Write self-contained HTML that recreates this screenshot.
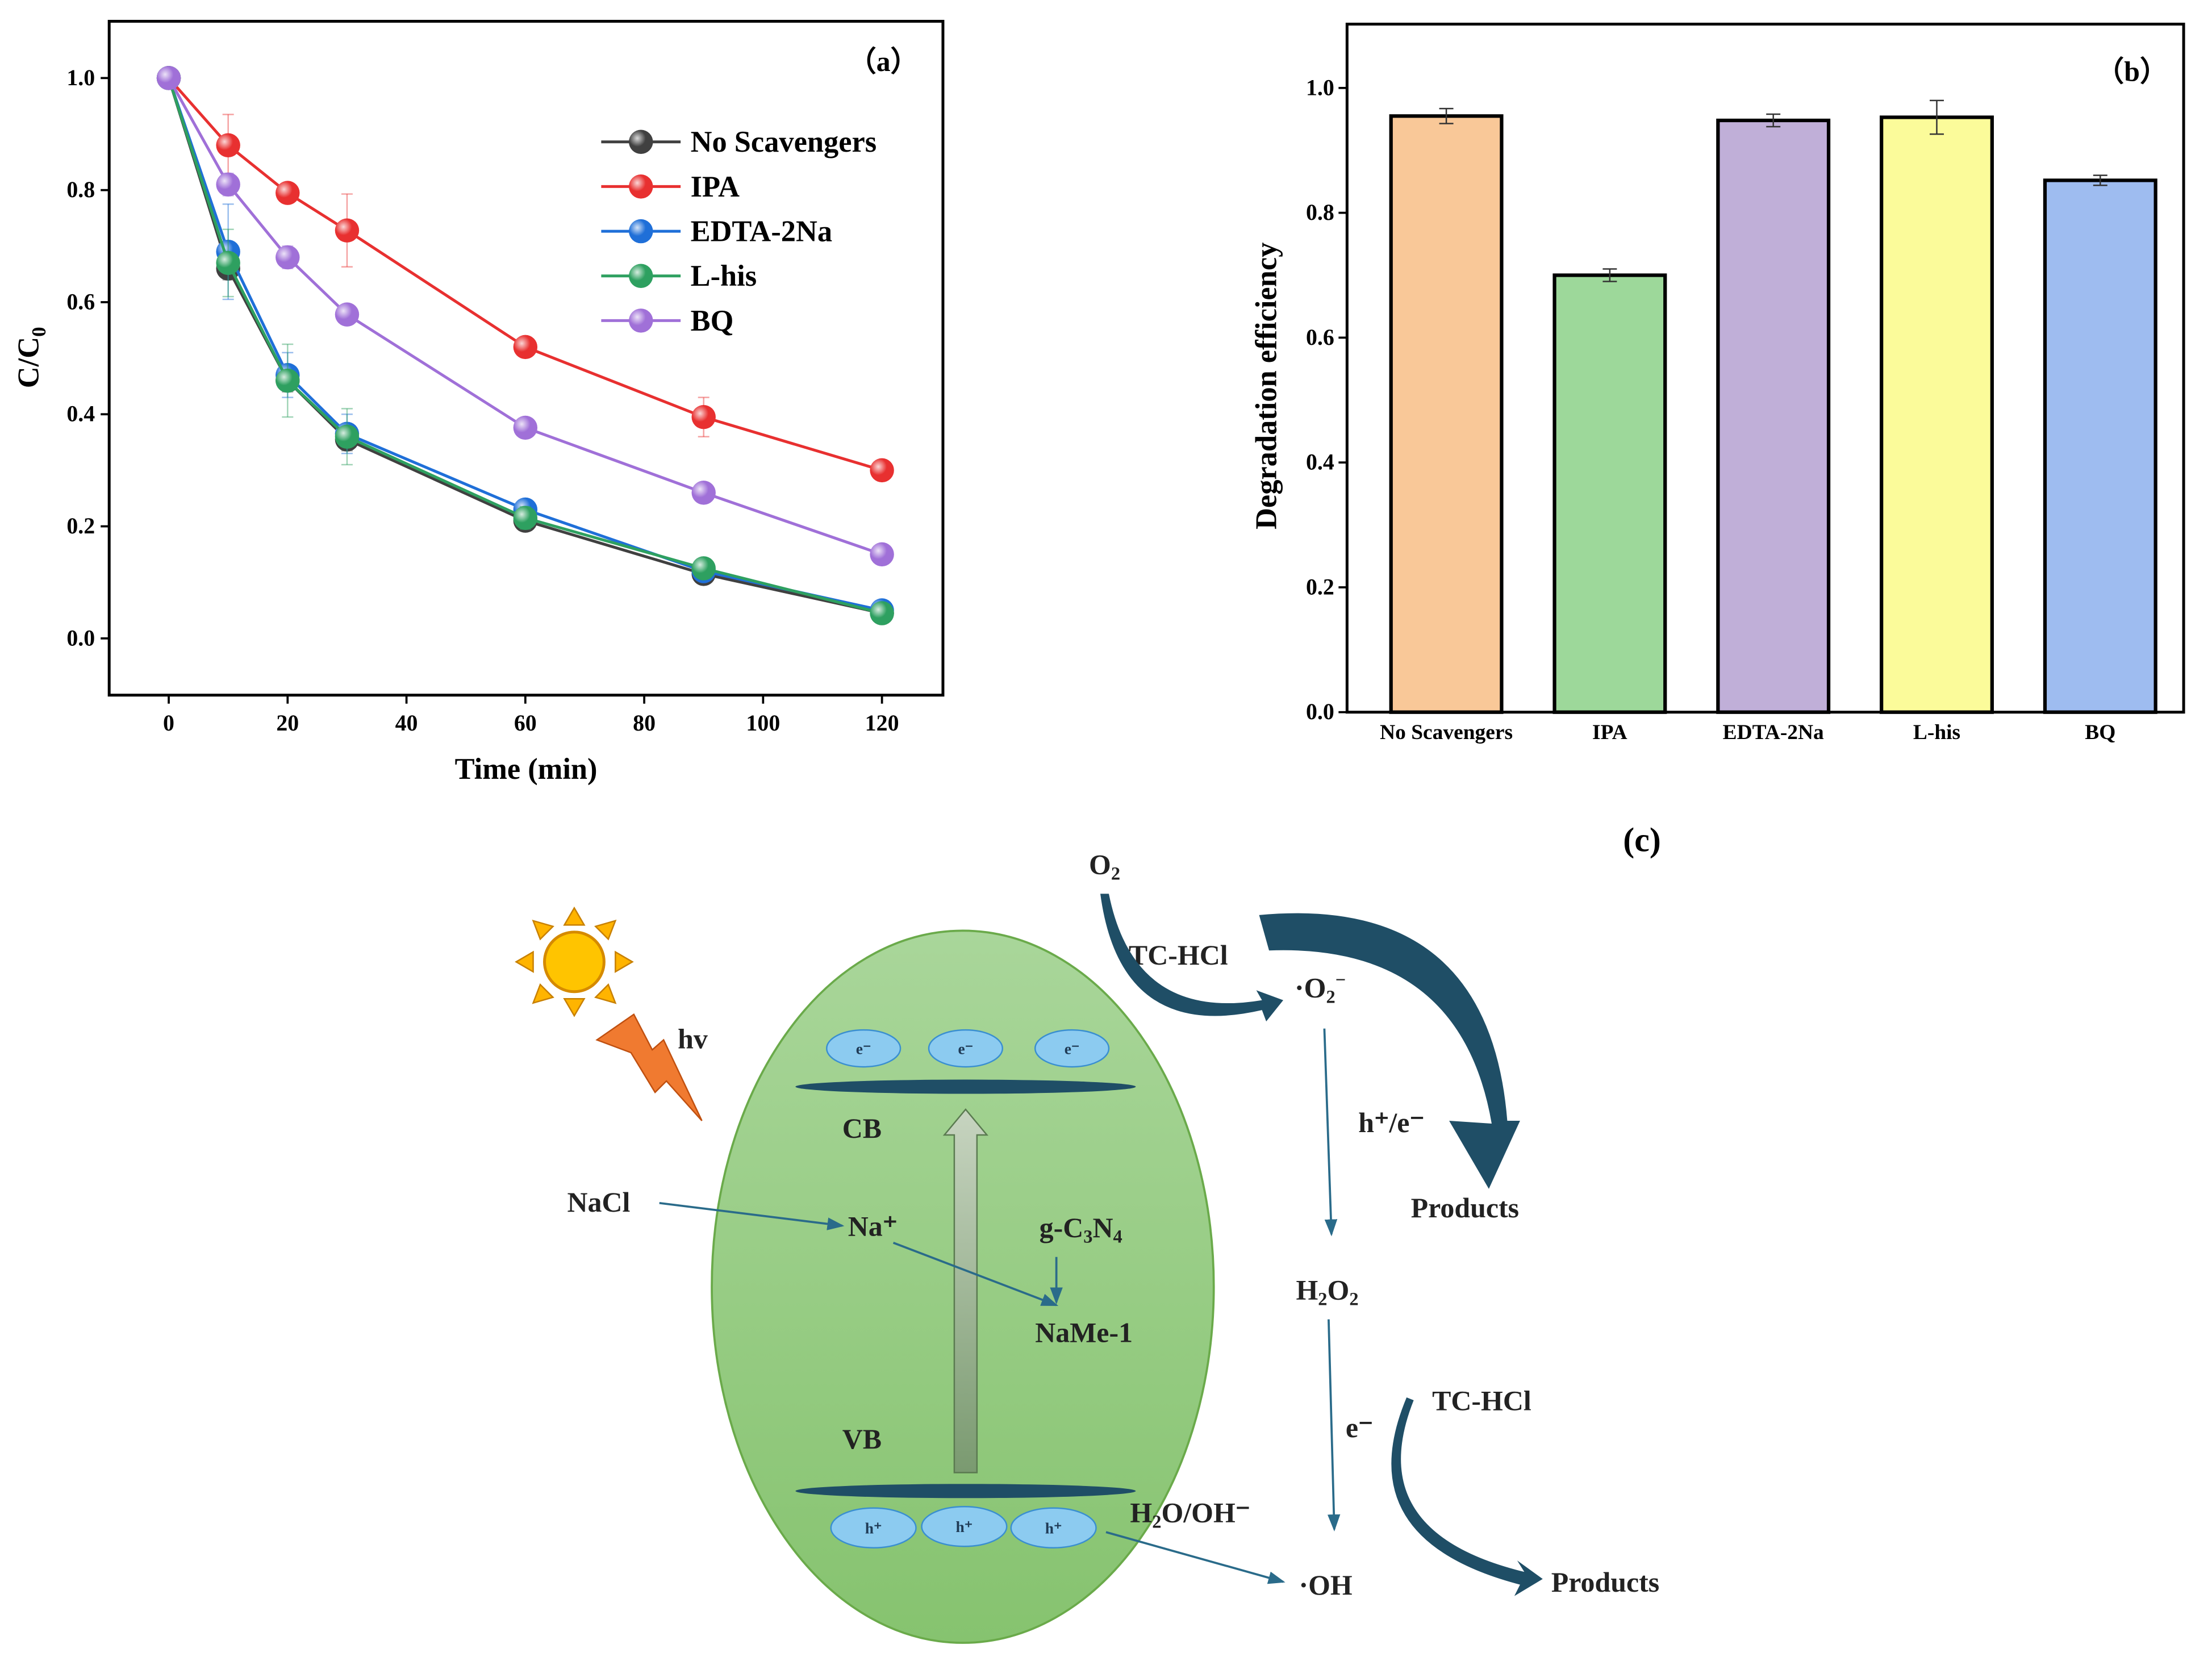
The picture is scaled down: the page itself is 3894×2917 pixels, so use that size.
<!DOCTYPE html>
<html><head><meta charset="utf-8"><style>
html,body{margin:0;padding:0;background:#fff;}
svg{display:block;font-family:"Liberation Serif",serif;font-weight:bold;}
</style></head><body>
<svg id="fig" width="3894" height="2917" viewBox="0 0 1560 1168" preserveAspectRatio="none" xmlns="http://www.w3.org/2000/svg">
<defs>
<radialGradient id="ball" cx="0.35" cy="0.35" r="0.7"><stop offset="0" stop-color="#fff" stop-opacity="0.8"/><stop offset="0.5" stop-color="#fff" stop-opacity="0"/></radialGradient>
<linearGradient id="cellg" x1="0" y1="0" x2="0" y2="1"><stop offset="0" stop-color="#a9d69a"/><stop offset="1" stop-color="#86c36f"/></linearGradient>
<linearGradient id="arrg" x1="0" y1="0" x2="0" y2="1"><stop offset="0" stop-color="#c7d4c0"/><stop offset="1" stop-color="#7a9a70"/></linearGradient>
<marker id="ah" markerWidth="8" markerHeight="8" refX="7" refY="4" orient="auto"><path d="M0,1 L8,4 L0,7 Z" fill="#2a6b8a"/></marker>
</defs>
<g id="pa"></g>
<g id="pb"></g>
<g id="pc">
  <text x="1158" y="600" font-size="24" text-anchor="middle">(c)</text>
  <ellipse cx="679" cy="907" rx="177" ry="251" fill="url(#cellg)" stroke="#6aaa4a" stroke-width="1.5"/>
  <ellipse cx="681" cy="766" rx="120" ry="5" fill="#1f4e66"/>
  <ellipse cx="681" cy="1051" rx="120" ry="5" fill="#1f4e66"/>
  <g font-size="11" text-anchor="middle" fill="#1f3a55">
    <ellipse cx="609" cy="739" rx="26" ry="13" fill="#8ccbf0" stroke="#3a8fd0"/><text x="609" y="743">e⁻</text>
    <ellipse cx="681" cy="739" rx="26" ry="13" fill="#8ccbf0" stroke="#3a8fd0"/><text x="681" y="743">e⁻</text>
    <ellipse cx="756" cy="739" rx="26" ry="13" fill="#8ccbf0" stroke="#3a8fd0"/><text x="756" y="743">e⁻</text>
  </g>
  <g font-size="11" text-anchor="middle" fill="#1f3a55">
    <ellipse cx="616" cy="1077" rx="30" ry="14" fill="#8ccbf0" stroke="#3a8fd0"/><text x="616" y="1081">h⁺</text>
    <ellipse cx="680" cy="1076" rx="30" ry="14" fill="#8ccbf0" stroke="#3a8fd0"/><text x="680" y="1080">h⁺</text>
    <ellipse cx="743" cy="1077" rx="30" ry="14" fill="#8ccbf0" stroke="#3a8fd0"/><text x="743" y="1081">h⁺</text>
  </g>
  <path d="M673,1038 L673,800 L666,800 L681,782 L696,800 L689,800 L689,1038 Z" fill="url(#arrg)" stroke="#5a7a50"/>
  <g font-size="20" fill="#222">
    <text x="594" y="802">CB</text>
    <text x="594" y="1021">VB</text>
    <text x="400" y="854">NaCl</text>
    <text x="598" y="871">Na⁺</text>
    <text x="733" y="872">g-C<tspan font-size="13" dy="4">3</tspan><tspan dy="-4">N</tspan><tspan font-size="13" dy="4">4</tspan></text>
    <text x="730" y="946">NaMe-1</text>
    <text x="478" y="739">hv</text>
    <text x="768" y="616">O<tspan font-size="13" dy="4">2</tspan></text>
    <text x="796" y="680">TC-HCl</text>
    <text x="913" y="703">·O<tspan font-size="13" dy="4">2</tspan><tspan font-size="13" dy="-12">−</tspan></text>
    <text x="958" y="798">h⁺/e⁻</text>
    <text x="995" y="858">Products</text>
    <text x="914" y="916">H<tspan font-size="13" dy="4">2</tspan><tspan dy="-4">O</tspan><tspan font-size="13" dy="4">2</tspan></text>
    <text x="949" y="1013">e⁻</text>
    <text x="1010" y="994">TC-HCl</text>
    <text x="797" y="1073">H<tspan font-size="13" dy="4">2</tspan><tspan dy="-4">O/OH⁻</tspan></text>
    <text x="916" y="1124">·OH</text>
    <text x="1094" y="1122">Products</text>
  </g>
  <g stroke="#2a6b8a" stroke-width="1.5" fill="none" marker-end="url(#ah)">
    <line x1="465" y1="848" x2="594" y2="864"/>
    <line x1="630" y1="876" x2="745" y2="920"/>
    <line x1="745" y1="886" x2="745" y2="918"/>
    <line x1="934" y1="725" x2="939" y2="870"/>
    <line x1="937" y1="930" x2="941" y2="1078"/>
    <line x1="780" y1="1080" x2="905" y2="1115"/>
  </g>
  <path d="M782,630 Q800,720 890,705 L886,698 L905,705 L893,720 L890,712 Q790,735 776,630 Z" fill="#1f4e66"/>
  <path d="M888,645 Q1050,630 1063,790 L1072,790 L1050,838 L1022,790 L1052,792 Q1030,665 895,670 Z" fill="#1f4e66"/>
  <path d="M997,987 Q960,1080 1075,1108 L1070,1100 L1088,1113 L1068,1125 L1072,1117 Q950,1085 992,985 Z" fill="#1f4e66"/>
  <g>
    <circle cx="405" cy="678" r="21" fill="#ffc400" stroke="#d58a00" stroke-width="2"/>
    <g fill="#ffb400" stroke="#c88000">
      <polygon points="405,640 398,652 412,652"/><polygon points="405,716 398,704 412,704"/>
      <polygon points="364,678 376,671 376,685"/><polygon points="446,678 434,671 434,685"/>
      <polygon points="376,649 381,662 390,653"/><polygon points="434,649 420,653 429,662"/>
      <polygon points="376,707 390,703 381,694"/><polygon points="434,707 429,694 420,703"/>
    </g>
  </g>
  <polygon points="421,733 447,715 460,740 468,733 495,790 470,762 462,770 445,742" fill="#f07a30" stroke="#c05010"/>
</g>
<script>
const NS="http://www.w3.org/2000/svg";
function mk(p,t,a){const e=document.createElementNS(NS,t);for(const k in a)e.setAttribute(k,a[k]);p.appendChild(e);return e;}
// Panel A data
const times=[0,10,20,30,60,90,120];
const seriesNames=["No Scavengers","IPA","EDTA-2Na","L-his","BQ"];
const noScav=[1.0,0.66,0.46,0.355,0.21,0.115,0.045];
const ipa=[1.0,0.88,0.795,0.728,0.52,0.395,0.30];
const edta=[1.0,0.69,0.47,0.365,0.23,0.12,0.05];
const lhis=[1.0,0.67,0.46,0.36,0.215,0.125,0.045];
const bq=[1.0,0.81,0.68,0.578,0.376,0.26,0.15];
const noScavErr=[0,0.02,0.02,0.02,0.015,0.015,0.01];
const ipaErr=[0,0.055,0.015,0.065,0.01,0.035,0.01];
const edtaErr=[0,0.085,0.04,0.035,0.015,0.01,0.01];
const lhisErr=[0,0.06,0.065,0.05,0.02,0.01,0.01];
const bqErr=[0,0.02,0.02,0.015,0.01,0.01,0.01];
const xTicksA=[0,20,40,60,80,100,120];
const yTicksA=[0.0,0.2,0.4,0.6,0.8,1.0];
// Panel B data
const barCats=["No Scavengers","IPA","EDTA-2Na","L-his","BQ"];
const barVals=[0.955,0.70,0.948,0.953,0.852];
const barErrs=[0.012,0.01,0.01,0.027,0.008];
const yTicksB=[0.0,0.2,0.4,0.6,0.8,1.0];

const colors=["#404040","#e83030","#1f6fd8","#2ea060","#a070d8"];
const vals=[noScav,ipa,edta,lhis,bq], errs=[noScavErr,ipaErr,edtaErr,lhisErr,bqErr];
const xA=t=>119+t*(622-119)/120, yA=v=>450-v*395;
const pa=document.getElementById('pa');
mk(pa,'rect',{x:77,y:15,width:588,height:475,fill:'none',stroke:'#000','stroke-width':2});
xTicksA.forEach(t=>{mk(pa,'line',{x1:xA(t),x2:xA(t),y1:490,y2:496,stroke:'#000','stroke-width':1.5});
 const e=mk(pa,'text',{x:xA(t),y:515,'font-size':16,'text-anchor':'middle'});e.textContent=t;
 
 });
yTicksA.forEach(v=>{mk(pa,'line',{x1:71,x2:77,y1:yA(v),y2:yA(v),stroke:'#000','stroke-width':1.5});
 const e=mk(pa,'text',{x:67,y:yA(v)+5,'font-size':16,'text-anchor':'end'});e.textContent=v.toFixed(1);
 
 });
let tx=mk(pa,'text',{x:371,y:549,'font-size':21,'text-anchor':'middle'});tx.textContent="Time (min)";


let ty=mk(pa,'text',{transform:'translate(27,252) rotate(-90)','font-size':21,'text-anchor':'middle'});
ty.appendChild(document.createTextNode('C/C'));
let sub=mk(ty,'tspan',{'font-size':14,dy:5});sub.textContent='0';


let la=mk(pa,'text',{x:598,y:50,'font-size':20});la.textContent="（a）";


vals.forEach((s,i)=>{
 const g=mk(pa,'g',{});
 
 
 s.forEach((v,j)=>{if(errs[i][j]>0){const x=xA(times[j]);
  mk(g,'line',{x1:x,x2:x,y1:yA(v+errs[i][j]),y2:yA(v-errs[i][j]),stroke:colors[i],'stroke-opacity':0.45});
  mk(g,'line',{x1:x-4,x2:x+4,y1:yA(v+errs[i][j]),y2:yA(v+errs[i][j]),stroke:colors[i],'stroke-opacity':0.45});
  mk(g,'line',{x1:x-4,x2:x+4,y1:yA(v-errs[i][j]),y2:yA(v-errs[i][j]),stroke:colors[i],'stroke-opacity':0.45});}});
 mk(g,'polyline',{points:s.map((v,j)=>xA(times[j])+','+yA(v)).join(' '),fill:'none',stroke:colors[i],'stroke-width':2});
 s.forEach((v,j)=>{const c=mk(g,'circle',{cx:xA(times[j]),cy:yA(v),r:8.5,fill:colors[i]});
  
  
  mk(g,'circle',{cx:xA(times[j]),cy:yA(v),r:8.5,fill:'url(#ball)'});});
 const ly=100+i*31.5;
 const lg=mk(pa,'g',{});
 
 
 mk(lg,'line',{x1:424,x2:480,y1:ly,y2:ly,stroke:colors[i],'stroke-width':2});
 mk(lg,'circle',{cx:452,cy:ly,r:8.5,fill:colors[i]});mk(lg,'circle',{cx:452,cy:ly,r:8.5,fill:'url(#ball)'});
 const t=mk(lg,'text',{x:487,y:ly+7,'font-size':21});t.textContent=seriesNames[i];
});
// Panel B
const pb=document.getElementById('pb');
const barColors=["#f9c898","#9dd89a","#c0afd8","#fbfb9a","#9ebcf0"];
const yB=v=>502-v*440, xB=i=>1020+i*115.3;
mk(pb,'rect',{x:950,y:17,width:590,height:485,fill:'none',stroke:'#000','stroke-width':2});
yTicksB.forEach(v=>{mk(pb,'line',{x1:944,x2:950,y1:yB(v),y2:yB(v),stroke:'#000','stroke-width':1.5});
 const e=mk(pb,'text',{x:941,y:yB(v)+5,'font-size':16,'text-anchor':'end'});e.textContent=v.toFixed(1);
 
 });
let tyb=mk(pb,'text',{transform:'translate(900,272) rotate(-90)','font-size':21,'text-anchor':'middle'});tyb.textContent="Degradation efficiency";


let lb=mk(pb,'text',{x:1478,y:57,'font-size':20});lb.textContent="（b）";


barVals.forEach((v,i)=>{const x=xB(i);
 const r=mk(pb,'rect',{x:x-39,y:yB(v),width:78,height:502-yB(v),fill:barColors[i],stroke:'#000','stroke-width':2.5});
 
 
 const e=barErrs[i];
 mk(pb,'line',{x1:x,x2:x,y1:yB(v+e),y2:yB(v-e),stroke:'#333'});
 mk(pb,'line',{x1:x-5,x2:x+5,y1:yB(v+e),y2:yB(v+e),stroke:'#333'});
 mk(pb,'line',{x1:x-5,x2:x+5,y1:yB(v-e),y2:yB(v-e),stroke:'#333'});
 const t=mk(pb,'text',{x:x,y:521,'font-size':15,'text-anchor':'middle'});t.textContent=barCats[i];
 
 
});
</script>
</svg>
</body></html>
